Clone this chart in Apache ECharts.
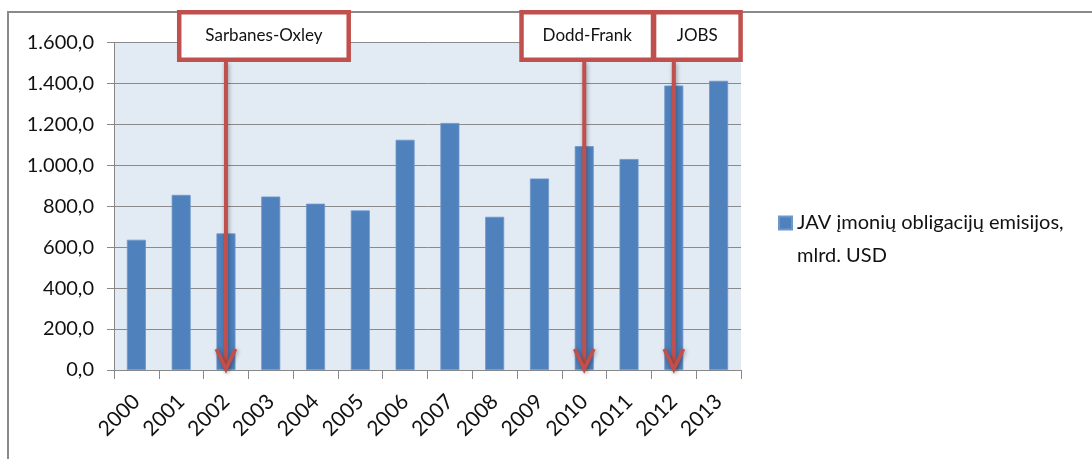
<!DOCTYPE html>
<html>
<head>
<meta charset="utf-8">
<script src="https://cdn.jsdelivr.net/npm/echarts@6/dist/echarts.min.js"></script>
<style>
html,body{margin:0;padding:0;background:#fff;}
#c{width:1092px;height:459px;}
</style>
</head>
<body>
<div id="c"></div>
<script>
// ---- data ----
var years = ['2000','2001','2002','2003','2004','2005','2006','2007','2008','2009','2010','2011','2012','2013'];
var issuance = [636, 855, 667, 847, 812, 779, 1124, 1206, 748, 935, 1093, 1030, 1389, 1412];
var seriesName = 'JAV įmonių obligacijų emisijos,\nmlrd. USD';
var yTicks = [0, 200, 400, 600, 800, 1000, 1200, 1400, 1600];
var eventLabels = ['Sarbanes-Oxley', 'Dodd-Frank', 'JOBS'];
var eventYears = ['2002', '2010', '2012'];

// ---- styling (box geometry relative to arrow line) ----
var boxStyle = [
  {dxLeft: -49, width: 174},
  {dxLeft: -65, width: 136},
  {dxLeft: -22, width: 91}
];

var FONT = 'Lato, "Liberation Sans", sans-serif';
var RED = '#C0504D';
var chart = echarts.init(document.getElementById('c'), null, {renderer: 'canvas'});

function fmt(v) {
  var s = Math.round(v).toString();
  s = s.replace(/\B(?=(\d{3})+(?!\d))/g, '.');
  return s + ',0';
}

var option = {
  animation: false,
  backgroundColor: '#fff',
  textStyle: {fontFamily: FONT},
  grid: {left: 114, right: 351, top: 42.3, bottom: 89, show: true, backgroundColor: '#E2EAF4', borderWidth: 0},
  legend: {
    left: 778, top: 173.5, padding: 0,
    icon: 'rect', itemWidth: 13, itemHeight: 13, itemGap: 0,
    textStyle: {fontFamily: FONT, fontSize: 20, color: '#111', lineHeight: 33},
    formatter: function (name) { return '\u00a0\n' + name; },
    data: [seriesName]
  },
  xAxis: {
    type: 'category', data: years,
    axisLine: {lineStyle: {color: '#888', width: 1}},
    axisTick: {show: true, length: 9, lineStyle: {color: '#888'}},
    axisLabel: {rotate: 45, fontSize: 21, color: '#111', fontFamily: FONT, margin: 28, interval: 0}
  },
  yAxis: {
    type: 'value', min: yTicks[0], max: yTicks[yTicks.length - 1], interval: yTicks[1] - yTicks[0],
    axisLine: {show: true, lineStyle: {color: '#888', width: 1}},
    axisTick: {show: true, length: 7, lineStyle: {color: '#888'}},
    splitLine: {lineStyle: {color: '#8a8a8a', width: 1}},
    axisLabel: {fontSize: 20, color: '#111', fontFamily: FONT, margin: 20, formatter: fmt}
  },
  series: [{
    name: seriesName, type: 'bar', data: issuance, barWidth: 19,
    itemStyle: {color: '#4F81BD', borderColor: '#6f97c9', borderWidth: 0.8}
  }]
};
chart.setOption(option);

function buildGraphics() {
  var els = [];
  // outer chart border (top and left visible)
  els.push({type: 'polyline', shape: {points: [[8, 470], [8, 12], [1100, 12]]},
    style: {stroke: '#8a8a8a', lineWidth: 2, fill: null}, z: 1});
  var boxTop = 10, boxBottom = 62, sw = 4.5;
  for (var i = 0; i < eventLabels.length; i++) {
    var x = chart.convertToPixel({xAxisIndex: 0}, eventYears[i]);
    var y0 = chart.convertToPixel({yAxisIndex: 0}, 0);
    var bs = boxStyle[i];
    els.push({type: 'line', shape: {x1: x, y1: boxBottom, x2: x, y2: y0 - 2},
      style: {stroke: RED, lineWidth: 4, shadowBlur: 4, shadowColor: 'rgba(0,0,0,0.35)', shadowOffsetX: 1, shadowOffsetY: 1}, z: 50});
    els.push({type: 'polyline', shape: {points: [[x - 9.5, y0 - 21], [x, y0 - 1], [x + 9.5, y0 - 21]]},
      style: {stroke: RED, lineWidth: 4, fill: null, lineJoin: 'miter', shadowBlur: 4, shadowColor: 'rgba(0,0,0,0.35)', shadowOffsetX: 1, shadowOffsetY: 1}, z: 50});
    els.push({type: 'rect', shape: {x: x + bs.dxLeft + sw / 2, y: boxTop + sw / 2, width: bs.width - sw, height: boxBottom - boxTop - sw},
      style: {fill: '#fff', stroke: RED, lineWidth: sw}, z: 60 + i});
    els.push({type: 'text', x: x + bs.dxLeft + bs.width / 2, y: (boxTop + boxBottom) / 2,
      style: {text: eventLabels[i], fontFamily: FONT, fontSize: 17, fill: '#111', align: 'center', verticalAlign: 'middle'}, z: 70 + i});
  }
  chart.setOption({graphic: els});
}
buildGraphics();
</script>
</body>
</html>
